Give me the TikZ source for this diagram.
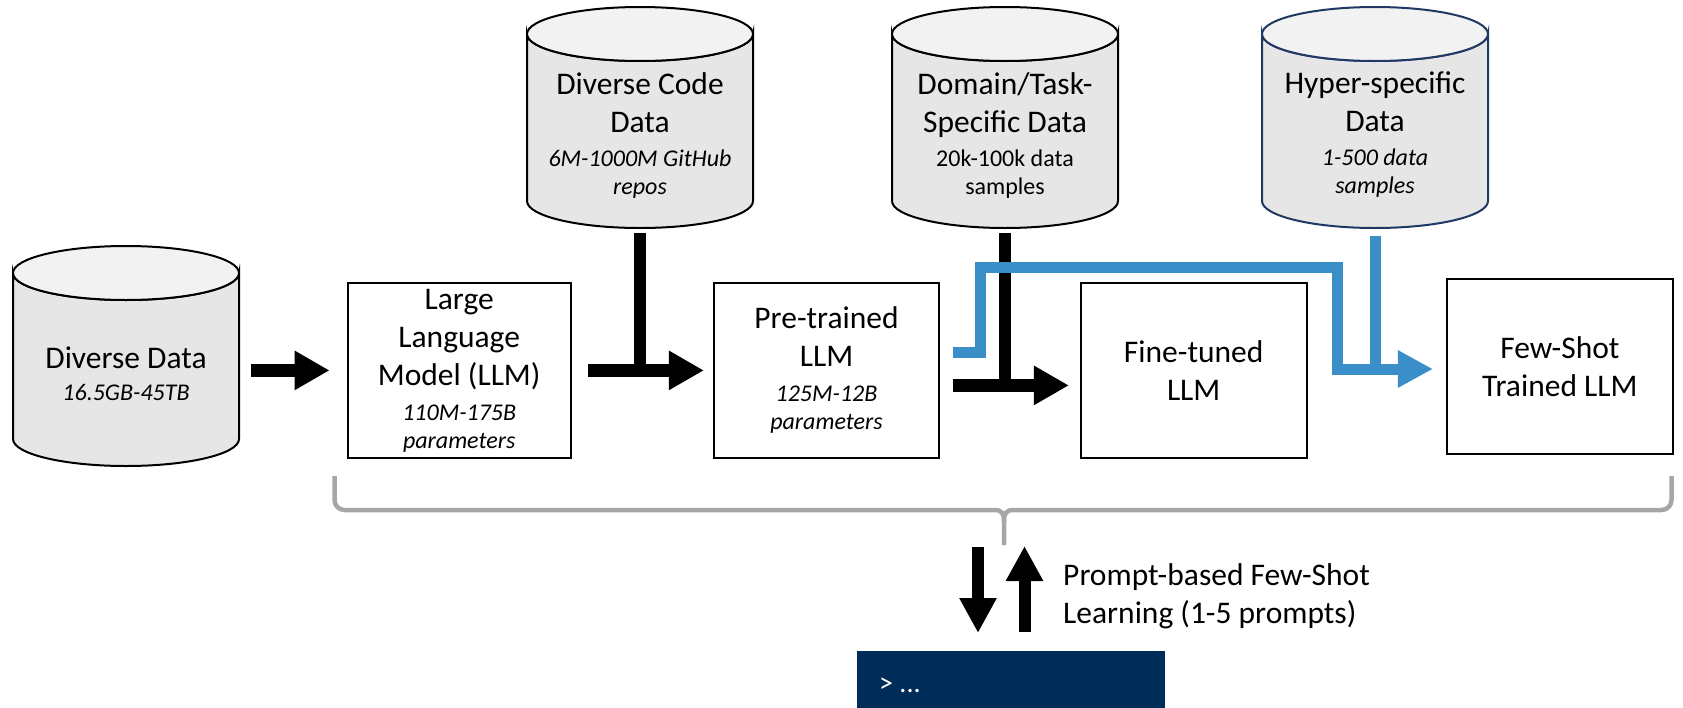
\documentclass[tikz,border=0pt]{standalone}
\usepackage{fontspec}
\setmainfont{Carlito}
\usetikzlibrary{arrows.meta,calc}

\definecolor{cylbody}{HTML}{E6E6E6}
\definecolor{cyltop}{HTML}{F2F2F2}
\definecolor{hyperline}{HTML}{1F3864}
\definecolor{flowblue}{HTML}{3A8FC9}
\definecolor{bracegray}{HTML}{A6A6A6}
\definecolor{termnavy}{HTML}{002C5A}

\newcommand\titlef{\fontsize{31.5}{38}\selectfont}
\newcommand\subf{\fontsize{24}{29}\selectfont}
\newcommand\termf{\fontsize{28}{32}\selectfont}

% data store drawn as a cylinder: #1 outline colour, #2 node name,
% #3 centre x, #4 top y, #5 bottom y
\newcommand\datacyl[5]{%
  \pgfmathsetmacro\cyltopc{#4+27}%
  \pgfmathsetmacro\cylbotc{#5-27}%
  \draw[draw=#1, line width=2, fill=cylbody]
    (#3-113,\cyltopc) -- (#3-113,\cylbotc)
    arc[start angle=180, end angle=0, x radius=113, y radius=27]
    -- (#3+113,\cyltopc)
    arc[start angle=0, end angle=180, x radius=113, y radius=27] -- cycle;
  \draw[draw=#1, line width=2, fill=cyltop]
    (#3,\cyltopc) ellipse[x radius=113, y radius=27];
  \node[inner sep=0, minimum width=226, minimum height=#5-#4] (#2)
    at (#3,{(#4+#5)/2}) {};%
}

\begin{document}
\begin{tikzpicture}[x=1pt, y=-1pt,
  stage/.style={draw, line width=2.2, minimum width=#1, minimum height=175,
    inner sep=0, align=center, font=\titlef},
  cyltext/.style={align=center, font=\titlef, inner sep=0},
  blkarrow/.style={line width=13, -{Triangle[length=35pt, width=37pt]}},
  blkbar/.style={line width=12, line cap=butt},
  bluearrow/.style={draw=flowblue, line width=11, line cap=butt,
    -{Triangle[length=35pt, width=35pt]}},
  bluebar/.style={draw=flowblue, line width=11, line cap=butt},
  vertarrow/.style={line width=12, -{Triangle[length=35pt, width=35pt]}}]

\useasboundingbox (0,0) rectangle (1683,707);

% data stores
\datacyl{black}{ddata}{126}{246}{466}
\datacyl{black}{code}{640}{7}{228}
\datacyl{black}{dom}{1005}{7}{228}
\datacyl{hyperline}{hyper}{1375}{7}{228}

\node[cyltext] (ddatatxt) at (126,374)
  {Diverse Data\\[-6pt]{\subf\itshape 16.5GB-45TB}};
\node[cyltext] (codetxt) at (640,135)
  {Diverse Code\\Data\\[-4pt]{\subf\itshape 6M-1000M GitHub}\\[-10pt]{\subf\itshape repos}};
\node[cyltext] (domtxt) at (1005,135)
  {Domain/Task-\\Specific Data\\[-4pt]{\subf 20k-100k data}\\[-10pt]{\subf samples}};
\node[cyltext] (hypertxt) at (1375,135)
  {Hyper-specific\\Data\\[-4pt]{\subf\itshape 1-500 data}\\[-10pt]{\subf\itshape samples}};

% model stages
\node[stage=223] (llm) at (459.2,370.4)
  {Large\\Language\\Model (LLM)\\[-3pt]{\subf\itshape 110M-175B}\\[-10pt]{\subf\itshape parameters}};
\node[stage=225] (pre) at (826.5,370.4)
  {Pre-trained\\LLM\\[-3pt]{\subf\itshape 125M-12B}\\[-10pt]{\subf\itshape parameters}};
\node[stage=226] (fine) at (1193.7,370.4) {Fine-tuned\\LLM};
\node[stage=225.7] (few) at (1559.9,366.5) {Few-Shot\\Trained LLM};

% prompt terminal
\node[fill=termnavy, minimum width=308, minimum height=60, inner sep=0,
  anchor=north west] (term) at (857,651) {};
\node[anchor=west, text=white, font=\termf, inner sep=0] (termtxt)
  at ([xshift=22pt,yshift=-4pt]term.west) {> ...};

% black training flow
\draw[blkarrow, shorten <=12pt, shorten >=17pt] (ddata.east |- llm.west) -- (llm.west);
\draw[blkarrow, shorten <=16pt, shorten >=9pt] (llm.east) -- (pre.west);
\draw[blkbar] ([yshift=-5pt]code.south) -- (code.south |- llm.east);

\coordinate (a3) at ([yshift=-15pt]pre.east);
\draw[blkarrow, shorten <=13pt, shorten >=10.7pt] (a3) -- (fine.west |- a3);
\draw[blkbar] ([yshift=-5pt]dom.south) -- (dom.south |- a3);

% blue few-shot flow
\coordinate (bl1) at (980,267);
\coordinate (bl2) at (1337.5,369);
\draw[bluearrow, shorten >=13pt]
  ([xshift=13pt,yshift=18pt]pre.east) -| (bl1) -| (bl2) -- (few.west |- bl2);
\draw[bluebar] ([yshift=-8pt]hyper.south) -- (hyper.south |- bl2);

% brace spanning the model stages
\coordinate (bt) at (1004,545);
\draw[draw=bracegray, line width=4.5, line join=round, line cap=butt]
  (334.5,476) -- (334.5,500) arc[start angle=180, end angle=90, radius=10]
  -- (994,510) .. controls (1002,510) and (1004,513) .. (1004,522) -- (bt);
\draw[draw=bracegray, line width=4.5, line join=round, line cap=butt]
  (1004,522) .. controls (1004,513) and (1006,510) .. (1014,510)
  -- (1661.5,510) arc[start angle=90, end angle=0, radius=10] -- (1671.5,476);

% prompt exchange
\draw[vertarrow, shorten <=2pt, shorten >=18pt]
  ([xshift=-26pt]bt) -- ([xshift=-26pt]bt |- term.north);
\draw[vertarrow, shorten <=19.3pt, shorten >=1pt]
  ([xshift=20.5pt]bt |- term.north) -- ([xshift=20.5pt]bt);
\node[anchor=west, align=left, font=\titlef, inner sep=0] (prompttxt) at (1063,596)
  {Prompt-based Few-Shot\\Learning (1-5 prompts)};

\end{tikzpicture}
\end{document}
